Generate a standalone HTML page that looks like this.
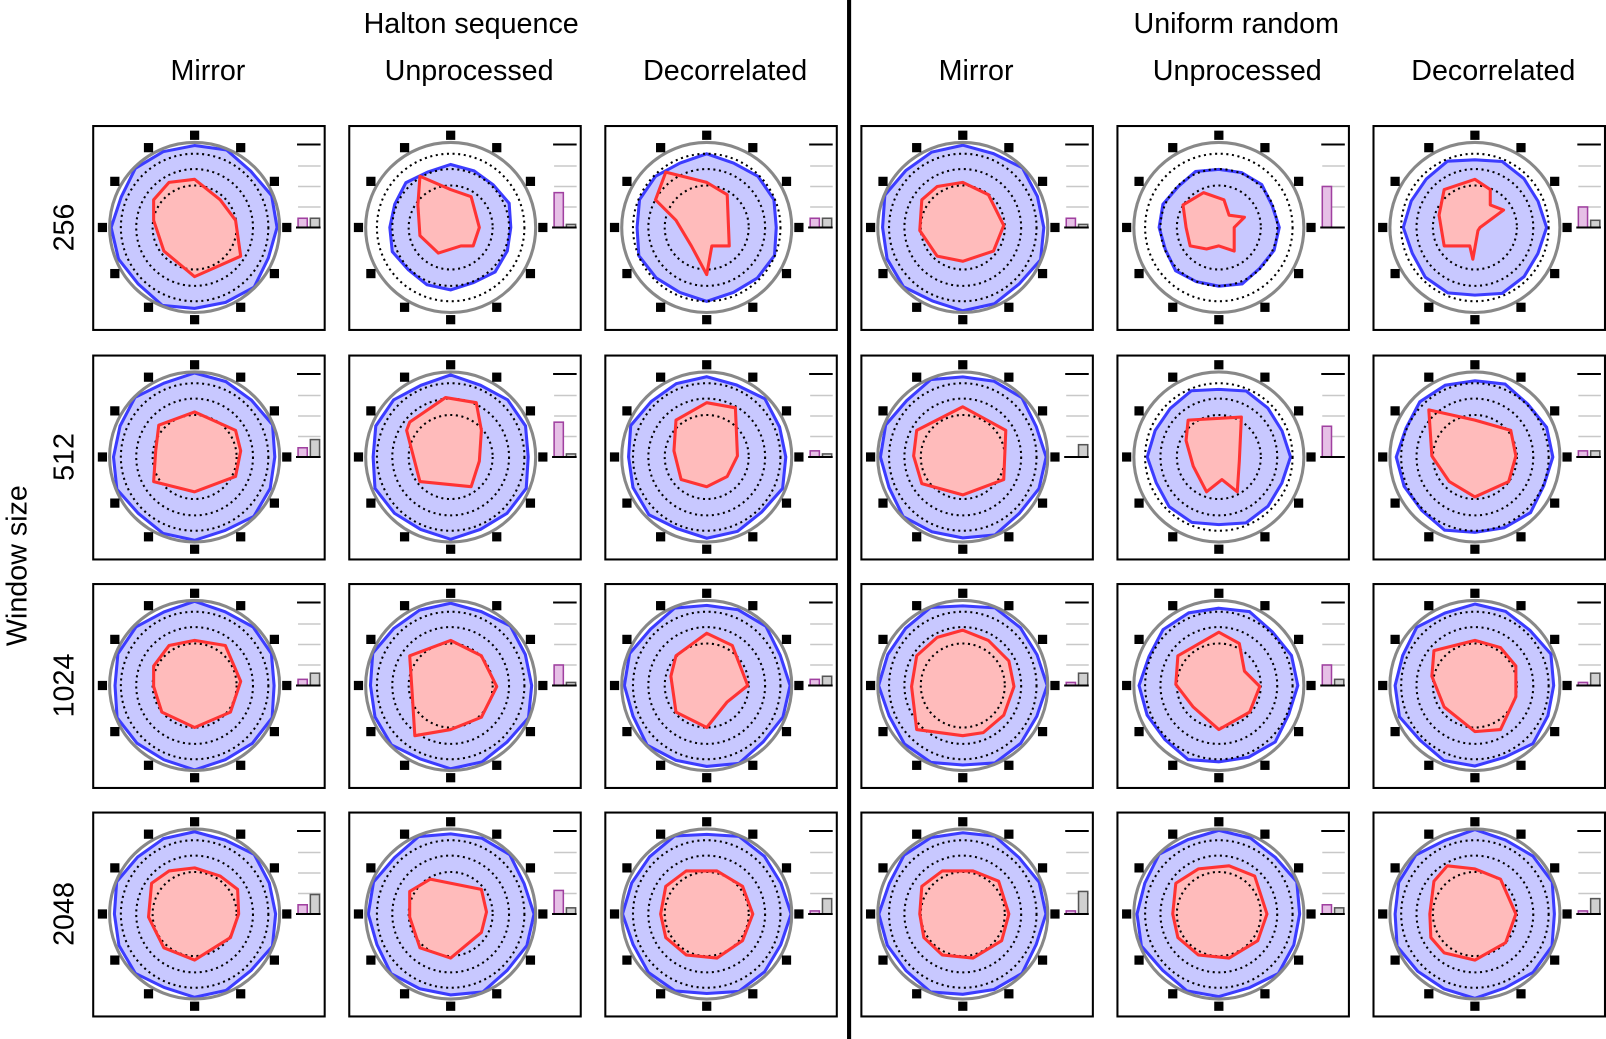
<!DOCTYPE html>
<html><head><meta charset="utf-8"><style>
html,body{margin:0;padding:0;background:#fff;overflow:hidden}
svg{display:block}
text{font-family:"Liberation Sans",sans-serif;fill:#000}
</style></head><body>
<svg id="s" width="1606" height="1039" viewBox="0 0 1568 1014" preserveAspectRatio="none" xmlns="http://www.w3.org/2000/svg">
<rect width="1568" height="1014" fill="#fff"/>
<line x1="829" y1="0" x2="829" y2="1014" stroke="#000" stroke-width="4"/>
<text x="460" y="32" font-size="28" text-anchor="middle">Halton sequence</text>
<text x="1207" y="32" font-size="28" text-anchor="middle">Uniform random</text>
<text x="203" y="78" font-size="28" text-anchor="middle">Mirror</text>
<text x="458" y="78" font-size="28" text-anchor="middle">Unprocessed</text>
<text x="708" y="78" font-size="28" text-anchor="middle">Decorrelated</text>
<text x="953" y="78" font-size="28" text-anchor="middle">Mirror</text>
<text x="1208" y="78" font-size="28" text-anchor="middle">Unprocessed</text>
<text x="1458" y="78" font-size="28" text-anchor="middle">Decorrelated</text>
<text transform="translate(72,222) rotate(-90)" font-size="28" text-anchor="middle">256</text>
<text transform="translate(72,446) rotate(-90)" font-size="28" text-anchor="middle">512</text>
<text transform="translate(72,669) rotate(-90)" font-size="28" text-anchor="middle">1024</text>
<text transform="translate(72,892) rotate(-90)" font-size="28" text-anchor="middle">2048</text>
<text transform="translate(26,552) rotate(-90)" font-size="28" text-anchor="middle">Window size</text>
<g id="g"></g>
</svg>
<script>
var cols=[91,341,591,841,1091,1341], rows=[123,347,570,793];
var blueR=[[80,60,70,80,58,68],[80,78,78,80,68,75],[80,80,80,80,76,78],[80,80,80,80,80,80]];
var red=[
[[[150,195],[165,178],[190,175],[215,195],[230,215],[235,250],[190,270],[160,245],[150,215]],
 [[410,172],[440,185],[460,192],[468,222],[462,240],[450,240],[428,247],[410,230],[408,200]],
 [[650,168],[690,178],[710,190],[712,240],[695,240],[690,268],[675,240],[660,215],[640,195]],
 [[900,195],[915,182],[940,178],[965,190],[980,220],[970,245],[940,255],[915,250],[898,225]],
 [[1155,200],[1175,188],[1195,195],[1200,210],[1215,212],[1205,222],[1205,245],[1190,240],[1178,243],[1162,240],[1158,222]],
 [[1410,185],[1440,175],[1455,185],[1455,200],[1468,205],[1445,222],[1443,225],[1438,253],[1435,240],[1410,240],[1405,210]]],
[[[155,415],[190,402],[230,420],[235,440],[230,465],[190,480],[150,470],[152,440]],
 [[400,412],[435,388],[465,393],[470,420],[468,450],[460,475],[410,470],[397,420]],
 [[660,410],[690,393],[718,398],[720,445],[710,465],[690,475],[665,468],[658,440]],
 [[895,420],[940,397],[982,420],[980,468],[940,483],[900,472],[892,445]],
 [[1160,410],[1212,407],[1210,450],[1208,480],[1193,468],[1178,480],[1165,455],[1158,430]],
 [[1395,400],[1440,410],[1475,420],[1480,445],[1473,470],[1440,485],[1415,470],[1398,445]]],
[[[150,650],[165,630],[190,625],[220,630],[235,665],[225,695],[190,710],[158,695],[150,670]],
 [[400,640],[440,625],[470,640],[485,670],[470,700],[440,712],[405,718],[402,670]],
 [[660,640],[690,618],[715,630],[730,669],[710,685],[690,710],[660,695],[655,660]],
 [[895,640],[915,622],[940,615],[965,625],[985,645],[990,670],[980,698],[960,715],[940,718],[895,712],[890,670]],
 [[1150,640],[1190,617],[1210,628],[1215,655],[1230,670],[1220,695],[1190,712],[1165,690],[1148,668]],
 [[1400,635],[1440,625],[1465,632],[1480,650],[1480,680],[1465,712],[1440,714],[1410,690],[1398,660]]],
[[[148,862],[165,850],[190,847],[215,855],[232,868],[233,892],[225,915],[190,937],[160,925],[145,895]],
 [[400,870],[420,858],[470,868],[475,890],[470,910],[440,935],[410,925],[400,895]],
 [[650,865],[670,850],[700,850],[725,865],[735,892],[725,918],[700,935],[670,932],[650,915],[645,892]],
 [[900,865],[920,850],[950,850],[975,860],[985,892],[978,918],[950,935],[920,932],[902,915],[898,892]],
 [[1148,862],[1170,848],[1200,845],[1225,855],[1237,892],[1228,918],[1200,935],[1170,932],[1150,915],[1145,892]],
 [[1400,860],[1413,845],[1440,848],[1465,858],[1480,892],[1470,920],[1440,937],[1410,930],[1397,915],[1396,892]]]];
var bars=[[[9,9],[34,3],[9,9],[9,3],[40,0],[20,7]],[[9,17],[34,3],[6,3],[0,12],[30,0],[6,6]],[[6,12],[20,3],[6,9],[3,12],[20,6],[3,12]],[[9,19],[23,6],[3,15],[3,22],[9,6],[3,15]]];
var h='';
for(var r=0;r<4;r++)for(var c=0;c<6;c++){
 var x=cols[c],y=rows[r],cx=x+99,cy=y+99;
 h+='<rect x="'+x+'" y="'+y+'" width="226" height="199" fill="#fff" stroke="#000" stroke-width="2"/>';
 var B=blueR[r][c],pts=[];
 for(var k=0;k<16;k++){var a=k*Math.PI*2/16,rr=B*(1+0.03*Math.sin(k*2.3+r+c));pts.push((cx+rr*Math.sin(a)).toFixed(1)+','+(cy-rr*Math.cos(a)).toFixed(1));}
 h+='<polygon points="'+pts.join(' ')+'" fill="#c8c8ff" stroke="#3c3cff" stroke-width="3"/>';
 var rp=red[r][c].map(function(p){return p.join(',');}).join(' ');
 h+='<polygon points="'+rp+'" fill="#ffbbbb" stroke="none"/>';
 [72,57,41].forEach(function(d){h+='<circle cx="'+cx+'" cy="'+cy+'" r="'+d+'" fill="none" stroke="#000" stroke-width="2" stroke-dasharray="2 3.5"/>';});
 h+='<polygon points="'+rp+'" fill="none" stroke="#ff3333" stroke-width="3" stroke-linejoin="round"/>';
 h+='<circle cx="'+cx+'" cy="'+cy+'" r="83" fill="none" stroke="#888" stroke-width="3"/>';
 for(var k=0;k<12;k++){var a=k*Math.PI/6,sx=cx+90*Math.sin(a),sy=cy-90*Math.cos(a);h+='<rect x="'+(sx-4.5).toFixed(1)+'" y="'+(sy-4.5).toFixed(1)+'" width="9" height="9" fill="#000"/>';}
 h+='<line x1="'+(x+199)+'" y1="'+(y+18)+'" x2="'+(x+222)+'" y2="'+(y+18)+'" stroke="#000" stroke-width="2"/>';
 [39,59,79].forEach(function(o){h+='<line x1="'+(x+200)+'" y1="'+(y+o)+'" x2="'+(x+222)+'" y2="'+(y+o)+'" stroke="#c8c8c8" stroke-width="1.5"/>';});
 var b=bars[r][c];
 if(b[0]>0)h+='<rect x="'+(x+200)+'" y="'+(cy-b[0])+'" width="9" height="'+b[0]+'" fill="#e6c0e6" stroke="#a040a0" stroke-width="1.5"/>';
 if(b[1]>0)h+='<rect x="'+(x+212)+'" y="'+(cy-b[1])+'" width="9" height="'+b[1]+'" fill="#d0d0d0" stroke="#555" stroke-width="1.5"/>';
 h+='<line x1="'+(x+198)+'" y1="'+cy+'" x2="'+(x+222)+'" y2="'+cy+'" stroke="#000" stroke-width="2"/>';
}
document.getElementById('g').innerHTML=h;
</script>
</body></html>
